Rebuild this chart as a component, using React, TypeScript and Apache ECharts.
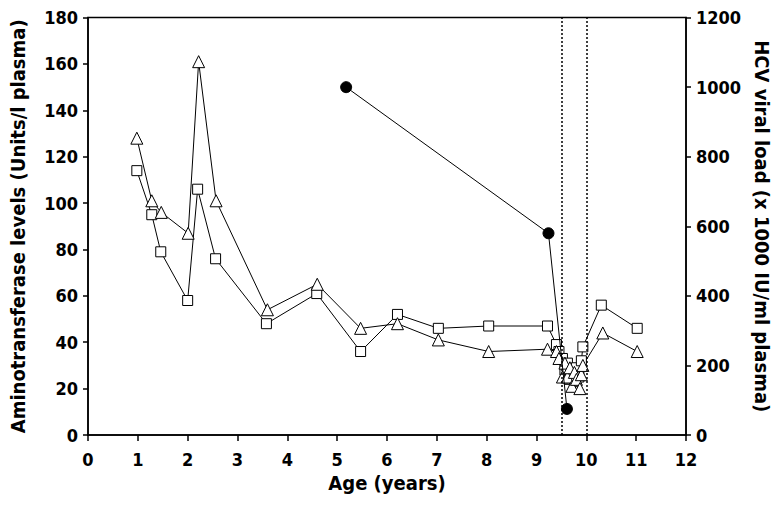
import React, { useEffect, useRef } from "react";
import * as echarts from "echarts";

// Aminotransferase (squares)
const ageSquares = [0.98, 1.28, 1.46, 2.0, 2.2, 2.56, 3.58, 4.59, 5.47, 6.21, 7.03, 8.04, 9.22, 9.4, 9.45, 9.52, 9.57, 9.62, 9.66, 9.71, 9.76, 9.8, 9.85, 9.9, 9.93, 10.3, 11.02];
const squareValues = [114, 95, 79, 58, 106, 76, 48, 61, 36, 52, 46, 47, 47, 39, 36, 33, 28, 31, 24, 27, 23, 29, 25, 32, 38, 56, 46];

// Aminotransferase (triangles)
const ageTriangles = [0.98, 1.28, 1.47, 2.01, 2.22, 2.57, 3.6, 4.6, 5.47, 6.21, 7.03, 8.04, 9.22, 9.4, 9.45, 9.52, 9.57, 9.62, 9.67, 9.71, 9.76, 9.8, 9.87, 9.9, 9.93, 10.33, 11.02];
const triangleValues = [128, 101, 96, 87, 161, 101, 54, 65, 46, 48, 41, 36, 37, 36, 33, 25, 31, 25, 29, 21, 27, 24, 20, 26, 30, 44, 36];

// HCV viral load (filled circles, right axis)
const ageViral = [5.18, 9.24, 9.61];
const viralValues = [1000, 580, 75];

// Treatment window markers
const treatmentLines = [9.5, 10];

const xTicks = { min: 0, max: 12, interval: 1 };
const leftTicks = { min: 0, max: 180, interval: 20 };
const rightTicks = { min: 0, max: 1200, interval: 200 };

const FONT = "'DejaVu Sans Condensed', 'Liberation Sans', Arial, sans-serif";

export default function App() {
  const ref = useRef<HTMLDivElement>(null);
  useEffect(() => {
    if (!ref.current) return;
    const chart = echarts.init(ref.current, null, { renderer: "svg" });
    const axisLabel = { color: "#000", fontFamily: FONT, fontWeight: "bold", fontSize: 18, formatter: (v: number) => String(v) };
    const nameStyle = { color: "#000", fontFamily: FONT, fontWeight: "bold", fontSize: 20 };
    const axisLine = { show: true, lineStyle: { color: "#000", width: 1.5 } };
    const lineStyle = { color: "#000", width: 1 };
    chart.setOption({
      animation: false,
      grid: { left: 88, right: 93, top: 17.6, bottom: 72, show: true, borderColor: "#000", borderWidth: 1.5 },
      xAxis: {
        type: "value",
        ...xTicks,
        name: "Age (years)",
        nameLocation: "middle",
        nameGap: 38,
        nameTextStyle: nameStyle,
        axisLine,
        axisTick: { show: true, length: 6, lineStyle: { color: "#000", width: 1.5 } },
        axisLabel: { ...axisLabel, margin: 15 },
        splitLine: { show: false },
      },
      yAxis: [
        {
          type: "value",
          ...leftTicks,
          name: "Aminotransferase levels (Units/l plasma)",
          nameLocation: "middle",
          nameGap: 60,
          nameTextStyle: nameStyle,
          axisLine,
          axisTick: { show: true, length: 5, lineStyle: { color: "#000", width: 1.5 } },
          axisLabel: { ...axisLabel, margin: 10 },
          splitLine: { show: false },
        },
        {
          type: "value",
          ...rightTicks,
          position: "right",
          name: "HCV viral load (x 1000 IU/ml plasma)",
          nameLocation: "middle",
          nameRotate: -90,
          nameGap: 64,
          nameTextStyle: nameStyle,
          axisLine,
          axisTick: { show: true, length: 5, lineStyle: { color: "#000", width: 1.5 } },
          axisLabel: { ...axisLabel, margin: 10 },
          splitLine: { show: false },
        },
      ],
      series: [
        {
          type: "line",
          yAxisIndex: 0,
          data: ageSquares.map((a, i) => [a, squareValues[i]]),
          symbol: "rect",
          symbolSize: 10,
          itemStyle: { color: "#fff", borderColor: "#000", borderWidth: 1 },
          lineStyle,
          z: 3,
          markLine: {
            silent: true,
            symbol: ["none", "none"],
            label: { show: false },
            lineStyle: { color: "#000", type: [2, 2], width: 1.5 },
            data: treatmentLines.map((x) => ({ xAxis: x })),
          },
        },
        {
          type: "line",
          yAxisIndex: 0,
          data: ageTriangles.map((a, i) => [a, triangleValues[i]]),
          symbol: "triangle",
          symbolSize: 12,
          itemStyle: { color: "#fff", borderColor: "#000", borderWidth: 1 },
          lineStyle,
          z: 3,
        },
        {
          type: "line",
          yAxisIndex: 1,
          data: ageViral.map((a, i) => [a, viralValues[i]]),
          symbol: "circle",
          symbolSize: 11,
          itemStyle: { color: "#000", borderColor: "#000" },
          lineStyle,
          z: 4,
        },
      ],
    });
    return () => chart.dispose();
  }, []);
  return <div ref={ref} style={{ width: 780, height: 507, position: "absolute", left: 0, top: 0 }} />;
}
